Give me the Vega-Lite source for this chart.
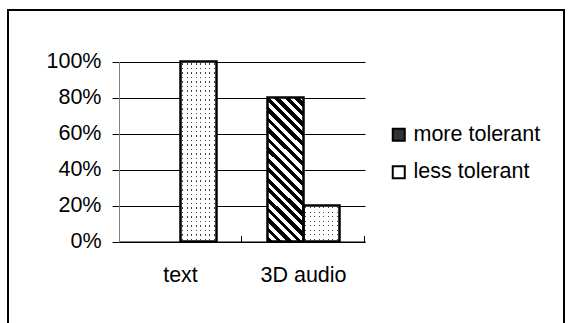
{
  "$schema": "https://vega.github.io/schema/vega-lite/v6.json",
  "width": 556,
  "height": 313,
  "autosize": "none",
  "padding": {"left": 8, "top": 10, "right": 7, "bottom": 0},
  "background": "white",
  "config": {
    "view": {"stroke": "black", "strokeWidth": 2, "strokeDash": [869, 556, 400]},
    "font": "Liberation Sans",
    "axis": {"labelFont": "Liberation Sans", "labelFontSize": 21.5, "labelColor": "black", "title": null}
  },
  "data": {
    "values": [
      {"category": "text", "series": "more tolerant", "value": 0},
      {"category": "text", "series": "less tolerant", "value": 1},
      {"category": "3D audio", "series": "more tolerant", "value": 0.8},
      {"category": "3D audio", "series": "less tolerant", "value": 0.2}
    ]
  },
  "encoding": {
    "x": {
      "field": "category", "type": "nominal",
      "scale": {"domain": ["text", "3D audio"], "range": [111, 357], "paddingInner": 0.4146, "paddingOuter": 0.2073},
      "axis": {
        "orient": "bottom", "offset": -81.5, "labelAngle": 0,
        "domainColor": "black", "domainWidth": 1,
        "bandPosition": 1.354, "tickSize": -6, "tickColor": "black", "tickWidth": 1,
        "labelPadding": 29
      }
    },
    "xOffset": {"field": "series", "type": "nominal", "scale": {"domain": ["more tolerant", "less tolerant"]}},
    "y": {
      "field": "value", "type": "quantitative",
      "scale": {"domain": [0, 1], "range": [231.5, 51.5], "nice": false},
      "axis": {
        "orient": "left", "offset": -111,
        "values": [0, 0.2, 0.4, 0.6, 0.8, 1], "format": ".0%",
        "grid": true, "gridColor": "black", "gridWidth": 1, "gridOpacity": 1,
        "domainColor": "#808080", "domainWidth": 1,
        "tickColor": "black", "tickSize": 7, "tickWidth": 1,
        "labelPadding": 11
      }
    }
  },
  "layer": [
    {
      "transform": [{"filter": "datum.series === 'more tolerant'"}],
      "mark": {
        "type": "bar", "strokeWidth": 0,
        "fill": {
          "gradient": "linear", "x1": 0, "y1": 1, "x2": 0.2941, "y2": -0.1765,
          "stops": [
            {"offset": 0, "color": "black"}, {"offset": 0.0278, "color": "black"}, {"offset": 0.0278, "color": "white"}, {"offset": 0.0556, "color": "white"},
            {"offset": 0.0556, "color": "black"}, {"offset": 0.0833, "color": "black"}, {"offset": 0.0833, "color": "white"}, {"offset": 0.1111, "color": "white"},
            {"offset": 0.1111, "color": "black"}, {"offset": 0.1389, "color": "black"}, {"offset": 0.1389, "color": "white"}, {"offset": 0.1667, "color": "white"},
            {"offset": 0.1667, "color": "black"}, {"offset": 0.1944, "color": "black"}, {"offset": 0.1944, "color": "white"}, {"offset": 0.2222, "color": "white"},
            {"offset": 0.2222, "color": "black"}, {"offset": 0.25, "color": "black"}, {"offset": 0.25, "color": "white"}, {"offset": 0.2778, "color": "white"},
            {"offset": 0.2778, "color": "black"}, {"offset": 0.3056, "color": "black"}, {"offset": 0.3056, "color": "white"}, {"offset": 0.3333, "color": "white"},
            {"offset": 0.3333, "color": "black"}, {"offset": 0.3611, "color": "black"}, {"offset": 0.3611, "color": "white"}, {"offset": 0.3889, "color": "white"},
            {"offset": 0.3889, "color": "black"}, {"offset": 0.4167, "color": "black"}, {"offset": 0.4167, "color": "white"}, {"offset": 0.4444, "color": "white"},
            {"offset": 0.4444, "color": "black"}, {"offset": 0.4722, "color": "black"}, {"offset": 0.4722, "color": "white"}, {"offset": 0.5, "color": "white"},
            {"offset": 0.5, "color": "black"}, {"offset": 0.5278, "color": "black"}, {"offset": 0.5278, "color": "white"}, {"offset": 0.5556, "color": "white"},
            {"offset": 0.5556, "color": "black"}, {"offset": 0.5833, "color": "black"}, {"offset": 0.5833, "color": "white"}, {"offset": 0.6111, "color": "white"},
            {"offset": 0.6111, "color": "black"}, {"offset": 0.6389, "color": "black"}, {"offset": 0.6389, "color": "white"}, {"offset": 0.6667, "color": "white"},
            {"offset": 0.6667, "color": "black"}, {"offset": 0.6944, "color": "black"}, {"offset": 0.6944, "color": "white"}, {"offset": 0.7222, "color": "white"},
            {"offset": 0.7222, "color": "black"}, {"offset": 0.75, "color": "black"}, {"offset": 0.75, "color": "white"}, {"offset": 0.7778, "color": "white"},
            {"offset": 0.7778, "color": "black"}, {"offset": 0.8056, "color": "black"}, {"offset": 0.8056, "color": "white"}, {"offset": 0.8333, "color": "white"},
            {"offset": 0.8333, "color": "black"}, {"offset": 0.8611, "color": "black"}, {"offset": 0.8611, "color": "white"}, {"offset": 0.8889, "color": "white"},
            {"offset": 0.8889, "color": "black"}, {"offset": 0.9167, "color": "black"}, {"offset": 0.9167, "color": "white"}, {"offset": 0.9444, "color": "white"},
            {"offset": 0.9444, "color": "black"}, {"offset": 0.9722, "color": "black"}, {"offset": 0.9722, "color": "white"}, {"offset": 1, "color": "white"}
          ]
        }
      }
    },
    {
      "transform": [{"filter": "datum.series === 'less tolerant'"}],
      "mark": {
        "type": "bar", "strokeWidth": 0,
        "fill": {
          "gradient": "linear", "x1": 0, "y1": 0, "x2": 1, "y2": 0,
          "stops": [
            {"offset": 0, "color": "white"},
            {"offset": 0.05, "color": "white"}, {"offset": 0.05, "color": "#444"}, {"offset": 0.083, "color": "#444"}, {"offset": 0.083, "color": "white"},
            {"offset": 0.175, "color": "white"}, {"offset": 0.175, "color": "#444"}, {"offset": 0.208, "color": "#444"}, {"offset": 0.208, "color": "white"},
            {"offset": 0.3, "color": "white"}, {"offset": 0.3, "color": "#444"}, {"offset": 0.333, "color": "#444"}, {"offset": 0.333, "color": "white"},
            {"offset": 0.425, "color": "white"}, {"offset": 0.425, "color": "#444"}, {"offset": 0.458, "color": "#444"}, {"offset": 0.458, "color": "white"},
            {"offset": 0.55, "color": "white"}, {"offset": 0.55, "color": "#444"}, {"offset": 0.583, "color": "#444"}, {"offset": 0.583, "color": "white"},
            {"offset": 0.675, "color": "white"}, {"offset": 0.675, "color": "#444"}, {"offset": 0.708, "color": "#444"}, {"offset": 0.708, "color": "white"},
            {"offset": 0.8, "color": "white"}, {"offset": 0.8, "color": "#444"}, {"offset": 0.833, "color": "#444"}, {"offset": 0.833, "color": "white"},
            {"offset": 0.925, "color": "white"}, {"offset": 0.925, "color": "#444"}, {"offset": 0.958, "color": "#444"}, {"offset": 0.958, "color": "white"},
            {"offset": 1, "color": "white"}
          ]
        }
      }
    },
    {
      "transform": [{"filter": "datum.series === 'less tolerant' && datum.value === 1"}],
      "mark": {
        "type": "bar", "strokeWidth": 0,
        "fill": {
          "gradient": "linear", "x1": 0, "y1": 0, "x2": 0, "y2": 1,
          "stops": [
            {"offset": 0, "color": "white"},
            {"offset": 0.01, "color": "white"}, {"offset": 0.01, "color": "transparent"}, {"offset": 0.017, "color": "transparent"}, {"offset": 0.017, "color": "white"},
            {"offset": 0.035, "color": "white"}, {"offset": 0.035, "color": "transparent"}, {"offset": 0.042, "color": "transparent"}, {"offset": 0.042, "color": "white"},
            {"offset": 0.06, "color": "white"}, {"offset": 0.06, "color": "transparent"}, {"offset": 0.067, "color": "transparent"}, {"offset": 0.067, "color": "white"},
            {"offset": 0.085, "color": "white"}, {"offset": 0.085, "color": "transparent"}, {"offset": 0.092, "color": "transparent"}, {"offset": 0.092, "color": "white"},
            {"offset": 0.11, "color": "white"}, {"offset": 0.11, "color": "transparent"}, {"offset": 0.117, "color": "transparent"}, {"offset": 0.117, "color": "white"},
            {"offset": 0.135, "color": "white"}, {"offset": 0.135, "color": "transparent"}, {"offset": 0.142, "color": "transparent"}, {"offset": 0.142, "color": "white"},
            {"offset": 0.16, "color": "white"}, {"offset": 0.16, "color": "transparent"}, {"offset": 0.167, "color": "transparent"}, {"offset": 0.167, "color": "white"},
            {"offset": 0.185, "color": "white"}, {"offset": 0.185, "color": "transparent"}, {"offset": 0.192, "color": "transparent"}, {"offset": 0.192, "color": "white"},
            {"offset": 0.21, "color": "white"}, {"offset": 0.21, "color": "transparent"}, {"offset": 0.217, "color": "transparent"}, {"offset": 0.217, "color": "white"},
            {"offset": 0.235, "color": "white"}, {"offset": 0.235, "color": "transparent"}, {"offset": 0.242, "color": "transparent"}, {"offset": 0.242, "color": "white"},
            {"offset": 0.26, "color": "white"}, {"offset": 0.26, "color": "transparent"}, {"offset": 0.267, "color": "transparent"}, {"offset": 0.267, "color": "white"},
            {"offset": 0.285, "color": "white"}, {"offset": 0.285, "color": "transparent"}, {"offset": 0.292, "color": "transparent"}, {"offset": 0.292, "color": "white"},
            {"offset": 0.31, "color": "white"}, {"offset": 0.31, "color": "transparent"}, {"offset": 0.317, "color": "transparent"}, {"offset": 0.317, "color": "white"},
            {"offset": 0.335, "color": "white"}, {"offset": 0.335, "color": "transparent"}, {"offset": 0.342, "color": "transparent"}, {"offset": 0.342, "color": "white"},
            {"offset": 0.36, "color": "white"}, {"offset": 0.36, "color": "transparent"}, {"offset": 0.367, "color": "transparent"}, {"offset": 0.367, "color": "white"},
            {"offset": 0.385, "color": "white"}, {"offset": 0.385, "color": "transparent"}, {"offset": 0.392, "color": "transparent"}, {"offset": 0.392, "color": "white"},
            {"offset": 0.41, "color": "white"}, {"offset": 0.41, "color": "transparent"}, {"offset": 0.417, "color": "transparent"}, {"offset": 0.417, "color": "white"},
            {"offset": 0.435, "color": "white"}, {"offset": 0.435, "color": "transparent"}, {"offset": 0.442, "color": "transparent"}, {"offset": 0.442, "color": "white"},
            {"offset": 0.46, "color": "white"}, {"offset": 0.46, "color": "transparent"}, {"offset": 0.467, "color": "transparent"}, {"offset": 0.467, "color": "white"},
            {"offset": 0.485, "color": "white"}, {"offset": 0.485, "color": "transparent"}, {"offset": 0.492, "color": "transparent"}, {"offset": 0.492, "color": "white"},
            {"offset": 0.51, "color": "white"}, {"offset": 0.51, "color": "transparent"}, {"offset": 0.517, "color": "transparent"}, {"offset": 0.517, "color": "white"},
            {"offset": 0.535, "color": "white"}, {"offset": 0.535, "color": "transparent"}, {"offset": 0.542, "color": "transparent"}, {"offset": 0.542, "color": "white"},
            {"offset": 0.56, "color": "white"}, {"offset": 0.56, "color": "transparent"}, {"offset": 0.567, "color": "transparent"}, {"offset": 0.567, "color": "white"},
            {"offset": 0.585, "color": "white"}, {"offset": 0.585, "color": "transparent"}, {"offset": 0.592, "color": "transparent"}, {"offset": 0.592, "color": "white"},
            {"offset": 0.61, "color": "white"}, {"offset": 0.61, "color": "transparent"}, {"offset": 0.617, "color": "transparent"}, {"offset": 0.617, "color": "white"},
            {"offset": 0.635, "color": "white"}, {"offset": 0.635, "color": "transparent"}, {"offset": 0.642, "color": "transparent"}, {"offset": 0.642, "color": "white"},
            {"offset": 0.66, "color": "white"}, {"offset": 0.66, "color": "transparent"}, {"offset": 0.667, "color": "transparent"}, {"offset": 0.667, "color": "white"},
            {"offset": 0.685, "color": "white"}, {"offset": 0.685, "color": "transparent"}, {"offset": 0.692, "color": "transparent"}, {"offset": 0.692, "color": "white"},
            {"offset": 0.71, "color": "white"}, {"offset": 0.71, "color": "transparent"}, {"offset": 0.717, "color": "transparent"}, {"offset": 0.717, "color": "white"},
            {"offset": 0.735, "color": "white"}, {"offset": 0.735, "color": "transparent"}, {"offset": 0.742, "color": "transparent"}, {"offset": 0.742, "color": "white"},
            {"offset": 0.76, "color": "white"}, {"offset": 0.76, "color": "transparent"}, {"offset": 0.767, "color": "transparent"}, {"offset": 0.767, "color": "white"},
            {"offset": 0.785, "color": "white"}, {"offset": 0.785, "color": "transparent"}, {"offset": 0.792, "color": "transparent"}, {"offset": 0.792, "color": "white"},
            {"offset": 0.81, "color": "white"}, {"offset": 0.81, "color": "transparent"}, {"offset": 0.817, "color": "transparent"}, {"offset": 0.817, "color": "white"},
            {"offset": 0.835, "color": "white"}, {"offset": 0.835, "color": "transparent"}, {"offset": 0.842, "color": "transparent"}, {"offset": 0.842, "color": "white"},
            {"offset": 0.86, "color": "white"}, {"offset": 0.86, "color": "transparent"}, {"offset": 0.867, "color": "transparent"}, {"offset": 0.867, "color": "white"},
            {"offset": 0.885, "color": "white"}, {"offset": 0.885, "color": "transparent"}, {"offset": 0.892, "color": "transparent"}, {"offset": 0.892, "color": "white"},
            {"offset": 0.91, "color": "white"}, {"offset": 0.91, "color": "transparent"}, {"offset": 0.917, "color": "transparent"}, {"offset": 0.917, "color": "white"},
            {"offset": 0.935, "color": "white"}, {"offset": 0.935, "color": "transparent"}, {"offset": 0.942, "color": "transparent"}, {"offset": 0.942, "color": "white"},
            {"offset": 0.96, "color": "white"}, {"offset": 0.96, "color": "transparent"}, {"offset": 0.967, "color": "transparent"}, {"offset": 0.967, "color": "white"},
            {"offset": 0.985, "color": "white"}, {"offset": 0.985, "color": "transparent"}, {"offset": 0.992, "color": "transparent"}, {"offset": 0.992, "color": "white"},
            {"offset": 1, "color": "white"}
          ]
        }
      }
    },
    {
      "transform": [{"filter": "datum.series === 'less tolerant' && datum.value === 0.2"}],
      "mark": {
        "type": "bar", "strokeWidth": 0,
        "fill": {
          "gradient": "linear", "x1": 0, "y1": 0, "x2": 0, "y2": 1,
          "stops": [
            {"offset": 0, "color": "white"},
            {"offset": 0.05, "color": "white"}, {"offset": 0.05, "color": "transparent"}, {"offset": 0.083, "color": "transparent"}, {"offset": 0.083, "color": "white"},
            {"offset": 0.175, "color": "white"}, {"offset": 0.175, "color": "transparent"}, {"offset": 0.208, "color": "transparent"}, {"offset": 0.208, "color": "white"},
            {"offset": 0.3, "color": "white"}, {"offset": 0.3, "color": "transparent"}, {"offset": 0.333, "color": "transparent"}, {"offset": 0.333, "color": "white"},
            {"offset": 0.425, "color": "white"}, {"offset": 0.425, "color": "transparent"}, {"offset": 0.458, "color": "transparent"}, {"offset": 0.458, "color": "white"},
            {"offset": 0.55, "color": "white"}, {"offset": 0.55, "color": "transparent"}, {"offset": 0.583, "color": "transparent"}, {"offset": 0.583, "color": "white"},
            {"offset": 0.675, "color": "white"}, {"offset": 0.675, "color": "transparent"}, {"offset": 0.708, "color": "transparent"}, {"offset": 0.708, "color": "white"},
            {"offset": 0.8, "color": "white"}, {"offset": 0.8, "color": "transparent"}, {"offset": 0.833, "color": "transparent"}, {"offset": 0.833, "color": "white"},
            {"offset": 0.925, "color": "white"}, {"offset": 0.925, "color": "transparent"}, {"offset": 0.958, "color": "transparent"}, {"offset": 0.958, "color": "white"},
            {"offset": 1, "color": "white"}
          ]
        }
      }
    },
    {
      "transform": [{"filter": "datum.value > 0"}],
      "mark": {"type": "bar", "fillOpacity": 0, "stroke": "black", "strokeWidth": 2.5},
      "encoding": {
        "fill": {
          "field": "series", "type": "nominal",
          "scale": {"domain": ["more tolerant", "less tolerant"], "range": ["#333", "white"]},
          "legend": {
            "title": null, "orient": "none", "legendX": 380, "legendY": 114, "padding": 0,
            "symbolType": "square", "symbolSize": 144, "symbolStrokeWidth": 2, "symbolStrokeColor": "black",
            "labelFont": "Liberation Sans", "labelFontSize": 21.5, "labelColor": "black", "labelOffset": 4,
            "rowPadding": 14.5
          }
        }
      }
    }
  ]
}
